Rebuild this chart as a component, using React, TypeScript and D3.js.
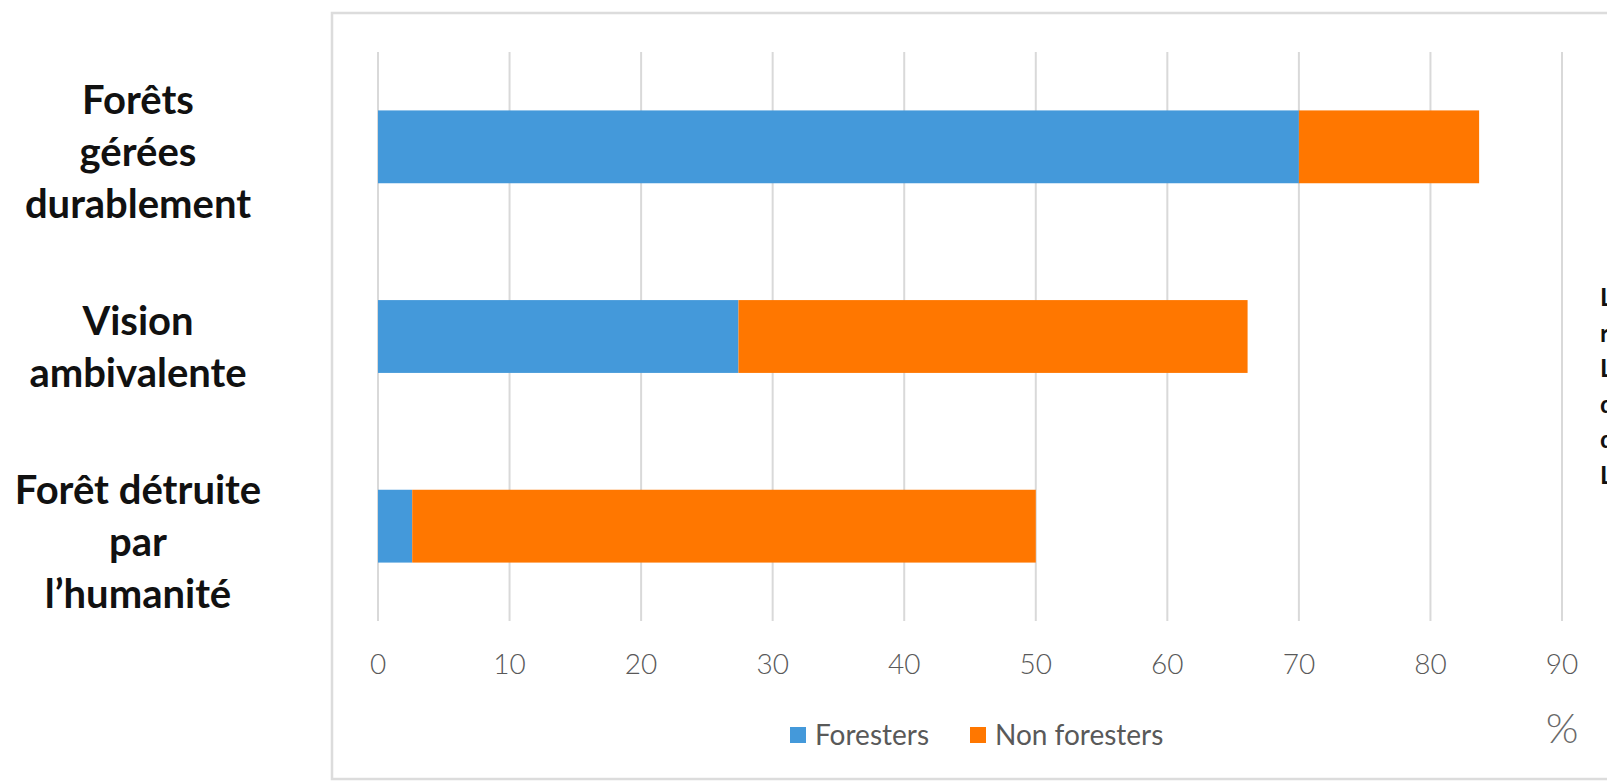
import React, { useEffect, useRef } from "react";
import * as d3 from "d3";

// chart values
const categories = ["durable", "ambivalente", "detruite"];
const categoryLabels = [
  ["Forêts", "gérées", "durablement"],
  ["Vision", "ambivalente"],
  ["Forêt détruite", "par", "l’humanité"],
];
const foresters = [70, 27.4, 2.6];
const nonForesters = [13.7, 38.7, 47.4];
const xTicks = [0, 10, 20, 30, 40, 50, 60, 70, 80, 90];
const seriesNames = ["Foresters", "Non foresters"];
const seriesColors = ["#4499da", "#ff7700"];
// clipped text from the neighbouring column
const sideText = ["Les", "ré", "La", "de", "de", "Le"];

const W = 1607;
const H = 782;

export default function App() {
  const svgRef = useRef<SVGSVGElement>(null);

  useEffect(() => {
    if (!svgRef.current) return;
    const svg = d3.select(svgRef.current);
    svg.selectAll("*").remove();

    const font = "Lato, 'Open Sans', sans-serif";

    // frame of the chart area
    svg
      .append("rect")
      .attr("x", 332)
      .attr("y", 13)
      .attr("width", W)
      .attr("height", 766)
      .attr("fill", "none")
      .attr("stroke", "#dcdcdc")
      .attr("stroke-width", 2.5);

    const x = d3.scaleLinear().domain([0, 90]).range([378, 1562]);
    const y = d3
      .scaleBand<string>()
      .domain(categories)
      .range([52, 621])
      .paddingInner(0.616)
      .paddingOuter(0.308);
    const yLabel = d3.scalePoint<string>().domain(categories).range([153, 543]);

    // gridlines
    svg
      .append("g")
      .selectAll("line")
      .data(xTicks)
      .join("line")
      .attr("x1", (d) => x(d))
      .attr("x2", (d) => x(d))
      .attr("y1", 52)
      .attr("y2", 621)
      .attr("stroke", "#d9d9d9")
      .attr("stroke-width", 2);

    // tick labels
    svg
      .append("g")
      .selectAll("text")
      .data(xTicks)
      .join("text")
      .attr("x", (d) => x(d))
      .attr("y", 674)
      .attr("text-anchor", "middle")
      .attr("font-family", font)
      .attr("font-size", 28)
      .attr("font-weight", 300)
      .attr("fill", "#595959")
      .text((d) => d);

    svg
      .append("text")
      .attr("x", x(90))
      .attr("y", 743)
      .attr("text-anchor", "middle")
      .attr("font-family", font)
      .attr("font-size", 42)
      .attr("font-weight", 300)
      .attr("fill", "#6a6a6a")
      .text("%");

    // stacked bars
    const rows = categories.map((c, i) => ({
      c,
      parts: [
        { x0: 0, x1: foresters[i], color: seriesColors[0] },
        {
          x0: foresters[i],
          x1: foresters[i] + nonForesters[i],
          color: seriesColors[1],
        },
      ],
    }));

    svg
      .append("g")
      .selectAll("g")
      .data(rows)
      .join("g")
      .each(function (row) {
        d3.select(this)
          .selectAll("rect")
          .data(row.parts)
          .join("rect")
          .attr("x", (p) => x(p.x0))
          .attr("width", (p) => x(p.x1) - x(p.x0))
          .attr("y", y(row.c)!)
          .attr("height", y.bandwidth())
          .attr("fill", (p) => p.color);
      });

    // category labels
    categories.forEach((c, i) => {
      const lines = categoryLabels[i];
      const cy = yLabel(c)!;
      const lh = 52;
      const t = svg
        .append("text")
        .attr("text-anchor", "middle")
        .attr("font-family", font)
        .attr("font-size", 40)
        .attr("font-weight", 700)
        .attr("fill", "#111");
      lines.forEach((l, j) => {
        t.append("tspan")
          .attr("x", 138)
          .attr("y", cy + 13 + (j - (lines.length - 1) / 2) * lh)
          .text(l);
      });
    });

    // legend
    const legendX = [790, 970];
    const legend = svg
      .append("g")
      .selectAll("g")
      .data(seriesNames)
      .join("g")
      .attr("transform", (_, i) => `translate(${legendX[i]},735)`);
    legend
      .append("rect")
      .attr("x", 0)
      .attr("y", -8)
      .attr("width", 16)
      .attr("height", 16)
      .attr("fill", (_, i) => seriesColors[i]);
    legend
      .append("text")
      .attr("x", 25)
      .attr("y", 10)
      .attr("font-family", font)
      .attr("font-size", 28)
      .attr("fill", "#595959")
      .text((d) => d);

    // neighbouring text column, cut by the picture's right edge as in the source
    svg
      .append("g")
      .selectAll("text")
      .data(sideText)
      .join("text")
      .attr("x", 1600)
      .attr("y", (_, i) => 306 + i * 35.6)
      .attr("font-family", font)
      .attr("font-size", 25)
      .attr("font-weight", 700)
      .attr("fill", "#111")
      .text((d) => d);
  }, []);

  return (
    <div style={{ position: "absolute", left: 0, top: 0, background: "#fff" }}>
      <svg ref={svgRef} width={W} height={H} style={{ display: "block" }} />
    </div>
  );
}
